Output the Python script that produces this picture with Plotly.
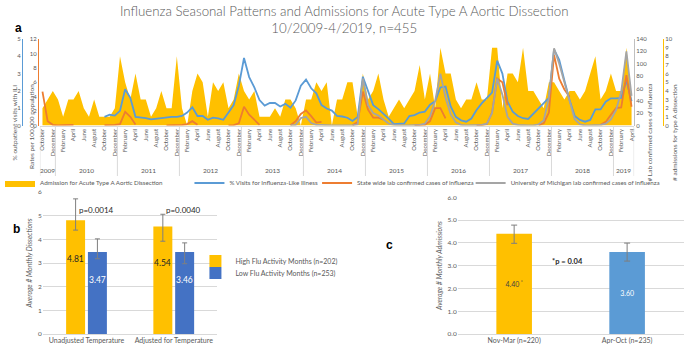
import plotly.graph_objects as go

W, H = 685, 346
FONT = "Lato"
GRAY_TXT = "#595959"
YELLOW, BLUE, ORANGE, GRAY, DBLUE = "#FFC000", "#5B9BD5", "#ED7D31", "#A5A5A5", "#4472C4"

# ---------------- Panel a: monthly data, Oct 2009 - Apr 2019 ----------------
month_names = ["October", "November", "December", "January", "February", "March",
               "April", "May", "June", "July", "August", "September"]
year_labels = ["2009", "2010", "2011", "2012", "2013", "2014", "2015", "2016", "2017", "2018", "2019"]

dissections = [2, 3, 4, 3, 1, 3, 3, 4, 2, 1, 3, 1, 1, 1, 2, 8, 5, 3, 6, 3, 3, 1, 2,
               4, 2, 2, 8, 2, 0, 4, 6, 5, 1, 5, 4, 5, 2, 3, 6,
               4, 3, 4, 1, 1, 1, 2,
               1, 3, 3, 2, 0, 3, 3, 5, 4, 5,
               0, 3, 3, 5, 5, 1, 6, 3, 4, 6,
               3, 1, 2, 3, 2, 3,
               4, 7, 3, 6, 2, 9, 6, 6,
               3, 2, 3, 3,
               5, 3, 3, 9, 9, 2, 6, 6, 5, 9, 4, 4, 3, 2, 5, 5, 4, 3, 4, 4, 3, 4, 6, 8, 3, 4, 6, 4, 4, 9, 3]

_ = None
ili_pct = [_] * 12 + [
    0.50, 0.62, 0.57, 0.85, 2.10, 1.60, 0.50, 0.48, 0.42, 0.36, 0.40, 0.42,
    0.45, 0.50, 0.50, 0.55, 0.75, 1.05, 0.55, 0.55, 0.33, 0.45, 0.41, 0.33,
    0.75, 1.18, 2.30, 3.90, 2.80, 2.20, 1.47, 1.15, 1.30, 1.30, 1.10, 1.25,
    1.03, 1.45, 2.30, 2.65, 2.15, 1.86, 1.18, 0.98, 0.86, 0.55, 0.52, 0.45,
    0.26, 0.50, 2.82, 1.95, 1.18, 0.95, 0.70, 0.40, 0.08, 0.10, 0.12, 0.55,
    0.60, 0.75, 0.80, 1.20, 1.40, 2.20, 2.25, 1.10, 0.50, 0.30, 0.22, 0.40,
    0.90, 1.28, 1.57, 1.90, 3.75, 3.00, 1.38, 0.80, 0.55, 0.42, 0.38, 0.70,
    1.00, 1.30, 1.60, 4.40, 3.80, 2.60, 1.47, 0.55, 0.32, 0.22, 0.32, 0.93,
    0.93, 1.38, 1.57, 1.57, 1.60, 2.60, 1.40]

state_rates = [4.7, 0.6, 0.1, 0.0, 0.05, 0.1, 0.1, _, _, _, _, _,
               0.05, 0.05, 0.1, 0.2, 1.9, 1.2, 0.15, _, _, _, _, _,
               0.02, 0.02, 0.05, 0.1, 0.2, 0.6, 0.1, _, _, _, _, _,
               0.02, 0.05, 0.3, 2.6, 1.5, 0.8, 0.1, _, _, _, _, _,
               0.05, 0.6, 1.6, 2.1, 1.3, 0.4, 0.5, _, _, _, _, _,
               0.05, 0.5, 4.7, 2.2, 1.1, 1.1, 0.8, _, _, _, _, _,
               0.05, 0.05, 0.1, 0.6, 2.4, 2.4, 1.0, _, _, _, _, _,
               0.05, 0.05, 0.2, 1.8, 6.5, 6.0, 2.8, _, _, _, _, _,
               0.05, 0.3, 1.8, 9.8, 6.5, 5.0, 4.0, _, _, _, _, _,
               0.1, 0.5, 1.5, 2.4, 2.5, 7.0, 2.6]

um_cases = [_] * 48 + [
    0, 1, 12, 14, 4, 1, 1, 0, 0, 0, 0, 0,
    0, 2, 76, 33, 20, 16, 10, 3, 1, 0, 0, 0,
    0, 1, 3, 15, 40, 84, 45, 18, 5, 1, 0, 0,
    0, 1, 3, 20, 76, 50, 14, 3, 1, 0, 0, 0,
    2, 8, 45, 125, 100, 70, 42, 10, 2, 0, 0, 0,
    1, 3, 10, 25, 55, 120, 48]

# ---------------- Panel b ----------------
b_categories = ["Unadjusted Temperature", "Adjusted for Temperature"]
b_high = [4.81, 4.54]
b_high_up = [0.90, 0.52]
b_high_down = [0.42, 0.62]
b_low = [3.47, 3.46]
b_low_up = [0.55, 0.39]
b_low_down = [0.29, 0.49]
b_pvalues = ["p=0.0014", "p=0.0040"]

# ---------------- Panel c ----------------
c_categories = ["Nov-Mar (n=220)", "Apr-Oct (n=235)"]
c_values = [4.40, 3.60]
c_err_up = [0.38, 0.39]
c_err_down = [0.42, 0.40]
c_pvalue = "*p = 0.04"


def px_x(p):
    return p / W


def px_y(p):
    return 1 - p / H


n = len(dissections)
idx = list(range(n))

fig = go.Figure()

fig.add_trace(go.Scatter(x=idx, y=dissections, mode="lines", line=dict(width=0, color=YELLOW),
                         fill="tozeroy", fillcolor=YELLOW, xaxis="x", yaxis="y",
                         name="Admission for Acute Type A Aortic Dissection", legend="legend"))
fig.add_trace(go.Scatter(x=idx, y=ili_pct, mode="lines", line=dict(color=BLUE, width=1.8),
                         xaxis="x", yaxis="y2", name="% Visits for Influenza-Like Illness", legend="legend2"))
fig.add_trace(go.Scatter(x=idx, y=state_rates, mode="lines", line=dict(color=ORANGE, width=1.8),
                         xaxis="x", yaxis="y3", name="State wide lab confirmed cases of influenza",
                         legend="legend3"))
fig.add_trace(go.Scatter(x=idx, y=um_cases, mode="lines", line=dict(color=GRAY, width=1.8),
                         xaxis="x", yaxis="y4", name="University of Michigan lab confirmed cases of influenza",
                         legend="legend4"))

err_col = "#7F7F7F"
fig.add_trace(go.Bar(x=b_categories, y=b_high, marker_color=YELLOW, xaxis="x2", yaxis="y5",
                     name="High Flu Activity Months (n=202)", legend="legend5",
                     error_y=dict(type="data", symmetric=False, array=b_high_up, arrayminus=b_high_down,
                                  color=err_col, thickness=1, width=2.5)))
fig.add_trace(go.Bar(x=b_categories, y=b_low, marker_color=DBLUE, xaxis="x2", yaxis="y5",
                     name="Low Flu Activity Months (n=253)", legend="legend6",
                     error_y=dict(type="data", symmetric=False, array=b_low_up, arrayminus=b_low_down,
                                  color=err_col, thickness=1, width=2.5)))

fig.add_trace(go.Bar(x=c_categories, y=c_values, marker_color=[YELLOW, BLUE], width=0.315,
                     xaxis="x3", yaxis="y6", showlegend=False,
                     text=[f"{c_values[0]:.2f}<sup> *</sup>", f"{c_values[1]:.2f}"],
                     textposition="inside", insidetextanchor="middle", textangle=0,
                     textfont=dict(size=7, color=["#404040", "white"], family=FONT),
                     error_y=dict(type="data", symmetric=False, array=c_err_up, arrayminus=c_err_down,
                                  color=err_col, thickness=1, width=3)))

# ---------- axes ----------
a_dom_y = [px_y(125.5), px_y(39)]
tick_idx = list(range(0, n, 2))
tick_txt = [month_names[i % 12] for i in tick_idx]
small = dict(family=FONT, size=6, color=GRAY_TXT)
ttl = dict(family=FONT, size=6.5, color=GRAY_TXT)

fig.update_layout(
    xaxis=dict(domain=[px_x(38), px_x(634)], anchor="y", range=[-0.5, n - 0.5],
               tickmode="array", tickvals=tick_idx, ticktext=tick_txt, tickangle=-90,
               tickfont=small, showgrid=False, zeroline=False, showline=True, linecolor="#D9D9D9",
               ticks="", automargin=False),
    yaxis=dict(domain=a_dom_y, range=[0, 10], dtick=1, side="right", anchor="free", position=px_x(663),
               showline=True, linecolor=YELLOW, linewidth=1, showgrid=False, zeroline=False, ticks="",
               tickfont=small, automargin=False),
    yaxis2=dict(domain=a_dom_y, range=[0, 5], dtick=1, side="left", anchor="free", position=px_x(20),
                overlaying="y", showline=True, linecolor=BLUE, showgrid=False, zeroline=False, ticks="",
                tickfont=small, automargin=False),
    yaxis3=dict(domain=a_dom_y, range=[0, 12], dtick=2, side="left", anchor="free", position=px_x(36),
                overlaying="y", showline=True, linecolor=ORANGE, showgrid=False, zeroline=False, ticks="",
                tickfont=small, automargin=False),
    yaxis4=dict(domain=a_dom_y, range=[0, 140], dtick=20, side="right", anchor="free", position=px_x(634),
                overlaying="y", showline=True, linecolor="#BFBFBF", showgrid=False, zeroline=False, ticks="",
                tickfont=small, automargin=False),
    xaxis2=dict(domain=[px_x(41), px_x(216)], anchor="y5", showgrid=False, zeroline=False,
                showline=True, linecolor="#D9D9D9", ticks="",
                tickfont=dict(family=FONT, size=7, color=GRAY_TXT), automargin=False),
    yaxis5=dict(domain=[px_y(334), px_y(192)], anchor="x2", range=[0, 6], dtick=1, showgrid=True,
                gridcolor="#D9D9D9", zeroline=False, showline=False, ticks="",
                tickfont=dict(family=FONT, size=6.5, color=GRAY_TXT),
                title=dict(text="<i>Average # Monthly Dissections</i>",
                           font=dict(family=FONT, size=7, color=GRAY_TXT), standoff=4),
                automargin=False),
    xaxis3=dict(domain=[px_x(457), px_x(683.6)], anchor="y6", showgrid=False, zeroline=False,
                showline=True, linecolor="#D9D9D9", ticks="",
                tickfont=dict(family=FONT, size=7, color=GRAY_TXT), automargin=False),
    yaxis6=dict(domain=[px_y(334), px_y(197.3)], anchor="x3", range=[0, 6], dtick=1, tickformat=".1f",
                showgrid=True, gridcolor="#D9D9D9", zeroline=False, showline=False, ticks="",
                tickfont=dict(family=FONT, size=6.5, color=GRAY_TXT),
                title=dict(text="<i>Average # Monthly Admissions</i>",
                           font=dict(family=FONT, size=7, color=GRAY_TXT), standoff=4),
                automargin=False),
)

# ---------- legends ----------
leg_font = dict(family=FONT, size=6.2, color=GRAY_TXT)
leg_y = px_y(183)
for name, xs in [("legend", 38), ("legend2", 228), ("legend3", 356), ("legend4", 510)]:
    fig.update_layout({name: dict(x=px_x(xs - 40), y=leg_y, xanchor="left", yanchor="middle",
                                  orientation="h", font=leg_font, bgcolor="rgba(0,0,0,0)",
                                  itemwidth=30)})
for name, yp in [("legend5", 261), ("legend6", 273)]:
    fig.update_layout({name: dict(x=px_x(194), y=px_y(yp), xanchor="left", yanchor="middle",
                                  orientation="v", font=dict(family=FONT, size=7, color=GRAY_TXT),
                                  bgcolor="rgba(0,0,0,0)", itemwidth=30)})

# ---------- year separators & labels ----------
shapes = []
annotations = []
bounds = [-0.5] + [i - 0.5 for i in idx if month_names[i % 12] == "January"] + [n - 0.5]
for j, yl in enumerate(year_labels):
    x0, x1 = bounds[j], bounds[j + 1]
    shapes.append(dict(type="line", xref="x", yref="paper", x0=x0, x1=x0, y0=px_y(126), y1=px_y(176),
                       line=dict(color="#D9D9D9", width=1)))
    annotations.append(dict(x=(x0 + x1) / 2, y=px_y(170.5), xref="x", yref="paper", text=yl,
                            showarrow=False, font=dict(family=FONT, size=6.5, color=GRAY_TXT)))
shapes.append(dict(type="line", xref="x", yref="paper", x0=bounds[-1], x1=bounds[-1], y0=px_y(126),
                   y1=px_y(176), line=dict(color="#D9D9D9", width=1)))

# ---------- panel a axis titles ----------
for text, xp in [("% outpatient visits with ILI", 8), ("Rates per 100,000 population", 24),
                 ("# Lab confirmed cases of influenza", 655), ("# admissions for type A dissection", 680)]:
    annotations.append(dict(x=px_x(xp), y=px_y(82), xref="paper", yref="paper", text=text,
                            textangle=-90, showarrow=False, font=ttl))

# ---------- panel b labels ----------
for j, cat in enumerate(b_categories):
    annotations.append(dict(x=cat, y=b_high[j] * 0.66, xref="x2", yref="y5", xshift=-11,
                            text=f"{b_high[j]:.2f}", showarrow=False,
                            font=dict(family=FONT, size=8.5, color="#262626")))
    annotations.append(dict(x=cat, y=b_low[j] * 0.66, xref="x2", yref="y5", xshift=11,
                            text=f"{b_low[j]:.2f}", showarrow=False,
                            font=dict(family=FONT, size=8.5, color="white")))
    annotations.append(dict(x=cat, y=5.25, xref="x2", yref="y5", xshift=10, text=b_pvalues[j],
                            showarrow=False, font=dict(family=FONT, size=8, color="#262626")))

annotations.append(dict(x=0.47, y=3.2, xref="x3", yref="y6", text=f"<b>{c_pvalue}</b>", showarrow=False,
                        font=dict(family=FONT, size=7.5, color="#262626")))

# ---------- titles & panel letters ----------
annotations.append(dict(x=0.5, y=px_y(1), xref="paper", yref="paper", xanchor="center", yanchor="top",
                        text="Influenza Seasonal Patterns and Admissions for Acute Type A Aortic Dissection"
                             "<br>10/2009-4/2019, n=455",
                        showarrow=False, font=dict(family=FONT, size=13.3, color=GRAY_TXT, weight=300)))
for letter, xp, yp in [("a", 11, 19), ("b", 9, 229), ("c", 389, 254)]:
    annotations.append(dict(x=px_x(xp), y=px_y(yp), xref="paper", yref="paper", text=f"<b>{letter}</b>",
                            showarrow=False, font=dict(family="Liberation Sans", size=12, color="black")))

fig.update_layout(
    template="none", width=W, height=H, margin=dict(l=0, r=0, t=0, b=0),
    paper_bgcolor="white", plot_bgcolor="white", font=dict(family=FONT, color=GRAY_TXT),
    barmode="group", bargap=0.5, bargroupgap=0.13,
    shapes=shapes, annotations=annotations,
)

fig.write_html("out.html", config={"displayModeBar": False},
               post_script="document.body.style.margin='0';document.body.style.padding='0';")
